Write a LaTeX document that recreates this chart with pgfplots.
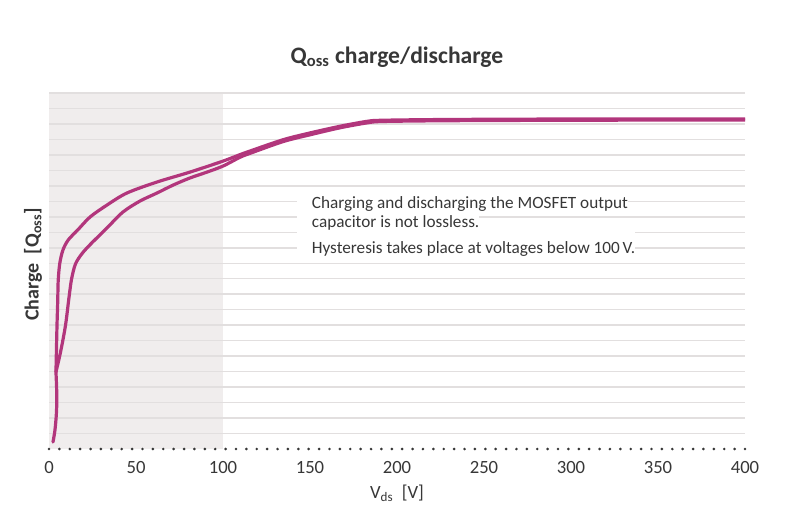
\documentclass[border=0pt]{standalone}
\usepackage{pgfplots}
\pgfplotsset{compat=1.18}
\usepackage{fontspec}
\setmainfont{Carlito}
\definecolor{curve}{RGB}{178,54,124}
\definecolor{gridc}{RGB}{226,223,223}
\definecolor{shade}{RGB}{240,237,237}
\definecolor{txt}{RGB}{55,55,55}
\begin{document}
\begin{tikzpicture}
\begin{axis}[
  at={(0pt,0pt)}, anchor=south west,
  width=522pt, height=267pt, scale only axis,
  xmin=0, xmax=400, ymin=0, ymax=23,
  set layers, clip=false,
  axis line style={draw=none},
  xtick={0,50,...,400},
  ytick={1,2,...,23}, yticklabels={},
  tick style={draw=none},
  ymajorgrids, grid style={color=gridc, line width=1.1pt},
  /pgf/number format/assume math mode=true,
  xticklabel style={font=\fontsize{14}{16}\selectfont, text=txt, yshift=-6pt},
  title={\bfseries Q\textsubscript{oss} charge/discharge},
  title style={at={(axis description cs:0.5,1)}, anchor=center, yshift=21pt, font=\fontsize{17.7}{20}\selectfont, text=txt},
  xlabel={V\textsubscript{ds}\ \ [V]},
  xlabel style={at={(axis description cs:0.5,0)}, anchor=center, yshift=-33pt, font=\fontsize{14}{16}\selectfont, text=txt},
  ylabel={\bfseries Charge\ \ [Q\textsubscript{oss}]},
  ylabel style={at={(axis description cs:0,0.5)}, anchor=center, xshift=5pt, yshift=12pt, font=\fontsize{15}{17}\selectfont, text=txt},
]
% shaded hysteresis region
\addplot[on layer=axis background, fill=shade, draw=none] coordinates {(0,0) (0,23) (100,23) (100,0)} -- cycle;
% dotted axis line
\addplot[txt, line width=2.2pt, line cap=round, dash pattern=on 0pt off 7.791pt] coordinates {(0,0) (400,0)};
% common stem
\addplot[curve, line width=2.4pt, smooth, line cap=round] coordinates {
(2.3,0.45) (3.4,1.2) (4.2,2.2) (4.5,3.2) (4.3,4.2) (4.0,4.97)};
% upper branch
\addplot[curve, line width=2.4pt, smooth, line join=round] coordinates {
(4.0,4.97) (4.3,6.5) (4.6,8.0) (5.0,9.5) (5.3,10.9) (6.2,12.0) (8.0,12.85) (11.0,13.5) (16.5,14.15) (23.6,14.99) (33.3,15.76) (44.8,16.54) (62.1,17.25) (81.0,17.89) (100,18.6) (109.8,19.02) (115.5,19.25) (134.5,19.98) (150,20.42) (167.2,20.85) (182.8,21.17) (192,21.24) (230,21.29) (300,21.32) (400,21.33)};
% lower branch
\addplot[curve, line width=2.4pt, smooth, line join=round] coordinates {
(4.0,4.97) (6.7,6.3) (9.5,8.0) (11.5,9.8) (13.0,11.0) (15.2,11.95) (18.8,12.6) (23.6,13.2) (33.3,14.28) (42.5,15.31) (52.3,16.02) (62.1,16.54) (71.3,17.05) (81.0,17.51) (90.8,17.89) (100,18.28) (109.8,18.85) (115.5,19.1) (134.5,19.86) (150,20.3) (167.2,20.75) (182.8,21.07) (192,21.16) (230,21.21) (300,21.24) (400,21.26)};
% annotation
\node[anchor=base west, fill=white, inner xsep=0pt, inner ysep=1pt, text height=9.5pt, text depth=4pt, font=\fontsize{12.9}{14}\selectfont, text=txt] at (axis cs:142.5,15.57) {\hspace{11pt}Charging and discharging the MOSFET output\hspace{7pt}};
\node[anchor=base west, fill=white, inner xsep=0pt, inner ysep=1pt, text height=8.5pt, text depth=4pt, font=\fontsize{12.9}{14}\selectfont, text=txt] at (axis cs:142.5,14.28) {\hspace{11pt}capacitor is not lossless.\hspace{7pt}};
\node[anchor=base west, fill=white, inner xsep=0pt, inner ysep=1pt, text height=15.5pt, text depth=4pt, font=\fontsize{12.9}{14}\selectfont, text=txt] at (axis cs:142.5,12.6) {\hspace{11pt}Hysteresis takes place at voltages below 100\,V.\hspace{7pt}};
\end{axis}
\path (-36.75pt,-47.25pt) rectangle (564.75pt,336.75pt);
\end{tikzpicture}
\end{document}
